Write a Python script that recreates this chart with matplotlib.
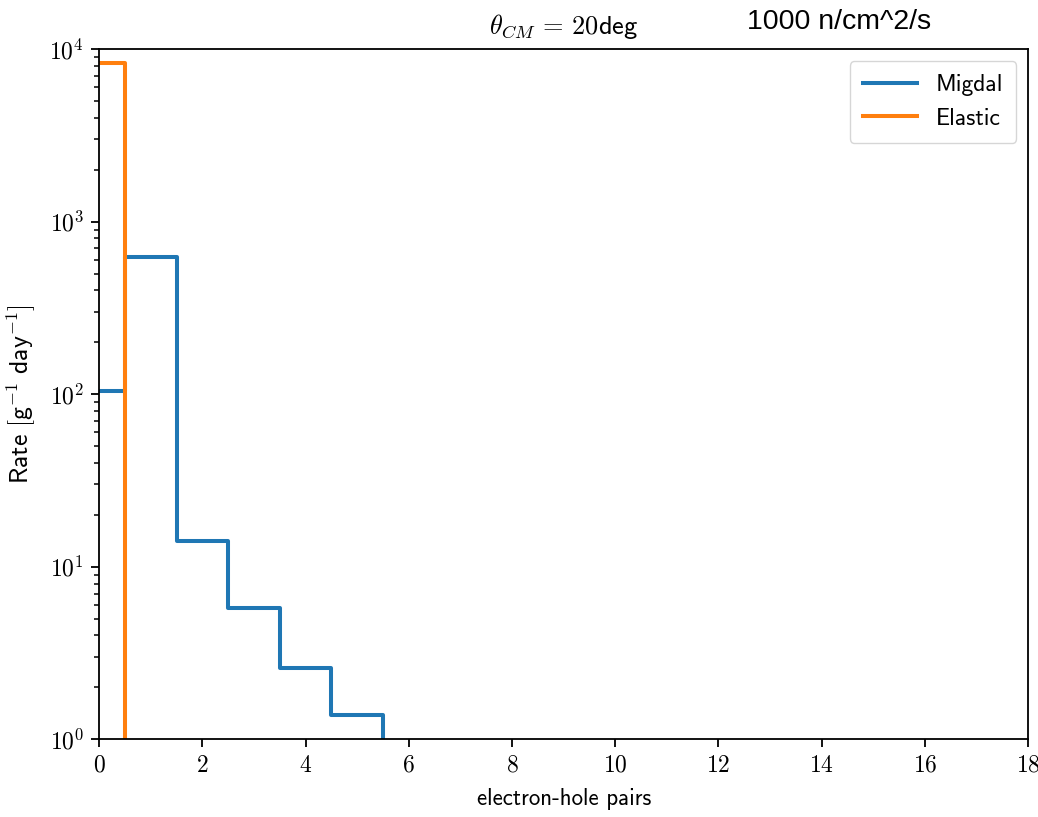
import numpy as np
import matplotlib
matplotlib.use("Agg")
import matplotlib.pyplot as plt
from matplotlib.ticker import FuncFormatter, LogLocator

plt.rcParams['mathtext.fontset'] = 'cm'
plt.rcParams['font.family'] = 'serif'
plt.rcParams['font.serif'] = ['cmr10']
plt.rcParams['axes.formatter.use_mathtext'] = True

# electron-hole pair bins
pairs = np.arange(0, 19)
# rates [g^-1 day^-1], values below the axis are left as 0
migdal = [104, 621, 14.1, 5.77, 2.59, 1.38] + [0] * 13
elastic = [8300] + [0] * 18

fig = plt.figure(figsize=(10.38, 8.17), dpi=100)
ax = fig.add_axes([0.0955, 0.095, 0.895, 0.845])

ax.step(pairs, migdal, where='mid', color='#1f77b4', lw=2.9, label='Migdal')
ax.step(pairs, elastic, where='mid', color='#ff7f0e', lw=2.9, label='Elastic')

ax.set_yscale('log', nonpositive='clip')
ax.set_xlim(0, 18)
ax.set_ylim(1, 1e4)
ax.set_xticks(np.arange(0, 19, 2))
ax.xaxis.set_major_formatter(FuncFormatter(lambda v, p: r'$%d$' % v))
ax.yaxis.set_major_formatter(FuncFormatter(lambda v, p: r'$10^{%d}$' % round(np.log10(v))))
ax.yaxis.set_minor_locator(LogLocator(base=10, subs=np.arange(2, 10)))
ax.tick_params(labelsize=17, width=1.3, length=6, pad=5)
ax.tick_params(which='minor', width=1.1, length=3.5)
for s in ax.spines.values():
    s.set_linewidth(1.3)

ax.set_xlabel('electron-hole pairs', fontfamily='cmss10', fontsize=16.5, labelpad=8)
ax.set_ylabel(r'$\mathsf{Rate\ [g^{-1}\ day^{-1}]}$', fontsize=18.5, labelpad=8)
ax.set_title(r'$\theta_{CM}\, =\, 20\mathsf{deg}$', fontsize=19, pad=11)

leg = ax.legend(loc='upper right', prop={'family': 'cmss10', 'size': 17},
                handlelength=2.3, borderpad=0.55, fancybox=True)
leg.get_frame().set_linewidth(1.0)

fig.text(0.72, 0.965, '1000 n/cm^2/s', fontfamily='Liberation Sans', fontsize=20.5)

fig.savefig('out.png', dpi=100)
